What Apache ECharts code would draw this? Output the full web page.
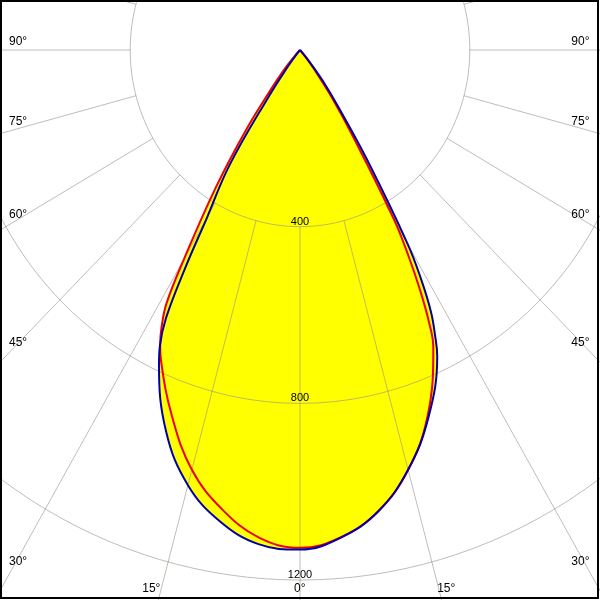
<!DOCTYPE html>
<html><head><meta charset="utf-8">
<script src="https://cdn.jsdelivr.net/npm/echarts@6/dist/echarts.min.js"></script>
<style>html,body{margin:0;padding:0;background:#fff}#c{width:600px;height:600px}</style>
</head><body><div id="c"></div>
<script>
// ---- data (intensity in cd vs. gamma angle, deg) ----
const angles     = [0, 5, 10, 15, 20, 25, 26.25, 27.5, 28.75, 30, 32.5, 35, 37.5, 40, 42.5, 45];
const blueLeft   = [1131, 1123, 1084, 1020, 921, 786, 746, 683, 560, 438, 309, 127, 45, 12, 0, 0];
const blueRight  = [1130, 1108, 1061, 984, 885, 765, 719, 668, 595, 508, 292, 157, 88, 35, 8, 0];
const redLeft    = [1127, 1108, 1056, 984, 882, 775, 745, 706, 653, 546, 370, 225, 113, 60, 20, 0];
const redRight   = [1129, 1107, 1060, 984, 880, 743, 687, 612, 530, 442, 233, 128, 55, 15, 0, 0];
const ringValues = [400, 800, 1200];
const ringLabels = ['400', '800', '1200'];
const sideLabels = ['90°', '75°', '60°', '45°', '30°'];
const bottomLabels = ['15°', '0°', '15°'];
const rayStep = 15;

// ---- layout (pixels) ----
const sideLabelY = [41.7, 121.3, 215, 342.2, 561.2];
const bottomLabelX = [151.3, 299.7, 446.2];
const bottomLabelY = 588.8;
const gridColor = 'rgba(150,145,135,0.6)';
const FONT = '"Liberation Sans", Arial, sans-serif';
const SMOOTH = 0.4;

const D = Math.PI / 180;
function toXY(arr, side) {
  return angles.map((a, i) => [side * arr[i] * Math.sin(a * D), -arr[i] * Math.cos(a * D)]);
}
function curve(left, right) {
  return toXY(left, -1).reverse().concat(toXY(right, 1).slice(1));
}
const blueCurve = curve(blueLeft, blueRight);
const redCurve = curve(redLeft, redRight);

const chart = echarts.init(document.getElementById('c'), null, {renderer: 'canvas'});

function fillSeries(pts, z) {
  return {
    type: 'custom', z: z, silent: true, data: [[0, 0]],
    renderItem: (p, api) => ({
      type: 'polygon',
      shape: {points: pts.map(q => api.coord(q)), smooth: SMOOTH},
      style: {fill: '#ffff00', stroke: null}
    })
  };
}

const graphics = [];
sideLabels.forEach((t, i) => {
  graphics.push({type: 'text', x: 9, y: sideLabelY[i], z: 50,
    style: {text: t, font: '12px ' + FONT, fill: '#000', align: 'left', verticalAlign: 'middle'}});
  graphics.push({type: 'text', x: 589.5, y: sideLabelY[i], z: 50,
    style: {text: t, font: '12px ' + FONT, fill: '#000', align: 'right', verticalAlign: 'middle'}});
});
bottomLabels.forEach((t, i) => {
  graphics.push({type: 'text', x: bottomLabelX[i], y: bottomLabelY, z: 50,
    style: {text: t, font: '12px ' + FONT, fill: '#000', align: 'center', verticalAlign: 'middle'}});
});
graphics.push({type: 'rect', z: 100, shape: {x: 1, y: 1, width: 597, height: 597},
  style: {fill: 'none', stroke: '#000', lineWidth: 2}});

chart.setOption({
  animation: false,
  backgroundColor: '#fff',
  grid: {left: 0, top: 0, width: 600, height: 600, containLabel: false},
  xAxis: {type: 'value', min: -706.7, max: 706.7, show: false},
  yAxis: {type: 'value', min: -1245.2, max: 113.2, show: false},
  graphic: graphics,
  series: [
    fillSeries(blueCurve, 1),
    fillSeries(redCurve, 1),
    {
      type: 'custom', z: 2, silent: true, data: [[0, 0]],
      renderItem: (p, api) => {
        const children = [];
        ringValues.forEach((r) => {
          const pts = [];
          for (let a = 0; a <= 360; a += 2) pts.push(api.coord([r * Math.sin(a * D), -r * Math.cos(a * D)]));
          children.push({type: 'polyline', shape: {points: pts}, style: {stroke: gridColor, lineWidth: 1, fill: null}});
        });
        for (let a = 0; a < 360; a += rayStep) {
          const s = Math.sin(a * D), c = Math.cos(a * D);
          const p1 = api.coord([ringValues[0] * s, -ringValues[0] * c]);
          const p2 = api.coord([5000 * s, -5000 * c]);
          children.push({type: 'line', shape: {x1: p1[0], y1: p1[1], x2: p2[0], y2: p2[1]},
            style: {stroke: gridColor, lineWidth: 1}});
        }
        ringValues.forEach((r, k) => {
          const p = api.coord([0, -r]);
          children.push({type: 'text', z2: 10,
            style: {text: ringLabels[k], x: p[0], y: p[1] - 5, font: '11px ' + FONT, fill: '#000',
              align: 'center', verticalAlign: 'middle', textAlign: 'center', textVerticalAlign: 'middle'}});
        });
        return {type: 'group', children: children};
      }
    },
    {
      type: 'line', z: 3, data: redCurve, smooth: SMOOTH, showSymbol: false, symbol: 'none',
      lineStyle: {color: '#ee0000', width: 2}, silent: true
    },
    {
      type: 'line', z: 4, data: blueCurve, smooth: SMOOTH, showSymbol: false, symbol: 'none',
      lineStyle: {color: '#0000a8', width: 2}, silent: true
    }
  ]
});
</script>
</body></html>
